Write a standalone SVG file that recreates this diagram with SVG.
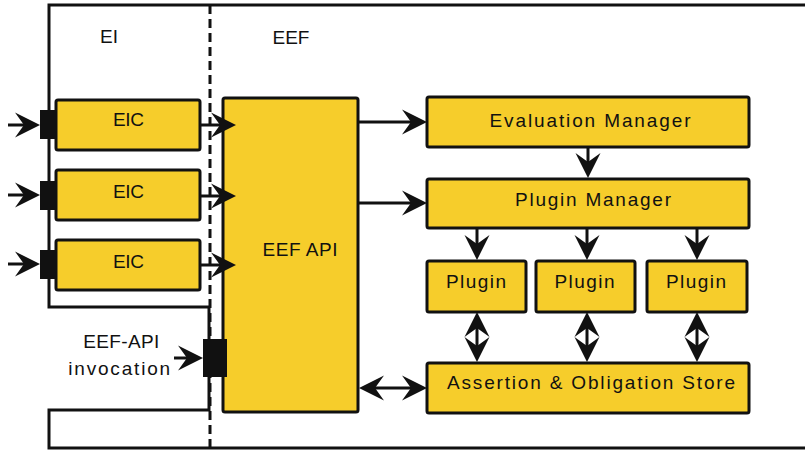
<svg xmlns="http://www.w3.org/2000/svg" width="805" height="450" viewBox="0 0 805 450">
<style>
.frame{fill:none;stroke:#111;stroke-width:3}
.dash{fill:none;stroke:#111;stroke-width:3;stroke-dasharray:9 5}
.box{fill:#F6CD2B;stroke:#111;stroke-width:3}
.tab{fill:#111;stroke:none}
.t{font-family:"Liberation Sans",Arial,sans-serif;font-size:19px;fill:#111;text-anchor:middle}
.c{fill:none;stroke:#111;stroke-width:3}
</style>
<defs>
<marker id="ah" viewBox="-27 -14 28 28" refX="-15" refY="0" markerWidth="28" markerHeight="28" markerUnits="userSpaceOnUse" orient="auto-start-reverse" overflow="visible">
<path d="M0,0 L-25,-12.5 L-16,0 L-25,12.5 Z" fill="#111"/>
</marker>
</defs>
<g id="frame">
<path class="frame" d="M806,5 H49 V307 H209 V410 H49 V448 H806"/>
<line class="dash" x1="210" y1="5" x2="210" y2="448"/>
<text class="t" x="109" y="43">EI</text>
<text class="t" x="291" y="44">EEF</text>
</g>
<g id="eic1"><rect class="box" x="56" y="100" width="144" height="50" rx="2"/><rect class="tab" x="40" y="110" width="16" height="29"/><text class="t" x="128.5" y="126" textLength="31">EIC</text></g>
<g id="eic2"><rect class="box" x="56" y="170" width="144" height="50" rx="2"/><rect class="tab" x="40" y="181" width="16" height="29"/><text class="t" x="128.5" y="198" textLength="31">EIC</text></g>
<g id="eic3"><rect class="box" x="56" y="240" width="144" height="50" rx="2"/><rect class="tab" x="40" y="250" width="16" height="29"/><text class="t" x="128.5" y="268" textLength="31">EIC</text></g>
<g id="eefapi"><rect class="box" x="223" y="98" width="135" height="314" rx="2"/><text class="t" x="300" y="256" textLength="75">EEF API</text></g>
<g id="invocation"><rect class="tab" x="203" y="339" width="24" height="38"/><text class="t" x="121.3" y="348" textLength="76">EEF-API</text><text class="t" x="119.2" y="375" textLength="102">invocation</text></g>
<g id="evalmgr"><rect class="box" x="427" y="97" width="322" height="50" rx="2"/><text class="t" x="590" y="127" textLength="201">Evaluation Manager</text></g>
<g id="pluginmgr"><rect class="box" x="427" y="179" width="322" height="49" rx="2"/><text class="t" x="593" y="206" textLength="156">Plugin Manager</text></g>
<g id="plugin1"><rect class="box" x="427" y="261" width="99" height="51" rx="2"/><text class="t" x="476" y="288" textLength="60">Plugin</text></g>
<g id="plugin2"><rect class="box" x="536" y="261" width="99" height="51" rx="2"/><text class="t" x="584.5" y="288" textLength="60">Plugin</text></g>
<g id="plugin3"><rect class="box" x="647" y="261" width="100" height="51" rx="2"/><text class="t" x="696" y="288" textLength="60">Plugin</text></g>
<g id="store"><rect class="box" x="427" y="363" width="322" height="50" rx="2"/><text class="t" x="591" y="389" textLength="288">Assertion &amp; Obligation Store</text></g>
<g id="connectors">
<line class="c" x1="8" y1="125" x2="25" y2="125" marker-end="url(#ah)"/>
<line class="c" x1="8" y1="195" x2="25" y2="195" marker-end="url(#ah)"/>
<line class="c" x1="8" y1="264" x2="25" y2="264" marker-end="url(#ah)"/>
<line class="c" x1="200" y1="125" x2="221" y2="125" marker-end="url(#ah)"/>
<line class="c" x1="200" y1="196" x2="221" y2="196" marker-end="url(#ah)"/>
<line class="c" x1="200" y1="265" x2="221" y2="265" marker-end="url(#ah)"/>
<line class="c" x1="174" y1="358" x2="188" y2="358" marker-end="url(#ah)"/>
<line class="c" x1="358" y1="122" x2="412" y2="122" marker-end="url(#ah)"/>
<line class="c" x1="358" y1="203" x2="412" y2="203" marker-end="url(#ah)"/>
<line class="c" x1="588" y1="147" x2="588" y2="163" marker-end="url(#ah)"/>
<line class="c" x1="477" y1="228" x2="477" y2="245" marker-end="url(#ah)"/>
<line class="c" x1="587" y1="228" x2="587" y2="245" marker-end="url(#ah)"/>
<line class="c" x1="697" y1="228" x2="697" y2="245" marker-end="url(#ah)"/>
<line class="c" x1="477" y1="327" x2="477" y2="347" marker-start="url(#ah)" marker-end="url(#ah)"/>
<line class="c" x1="587" y1="327" x2="587" y2="347" marker-start="url(#ah)" marker-end="url(#ah)"/>
<line class="c" x1="697" y1="327" x2="697" y2="347" marker-start="url(#ah)" marker-end="url(#ah)"/>
<line class="c" x1="374" y1="388" x2="412" y2="388" marker-start="url(#ah)" marker-end="url(#ah)"/>
</g>
</svg>
